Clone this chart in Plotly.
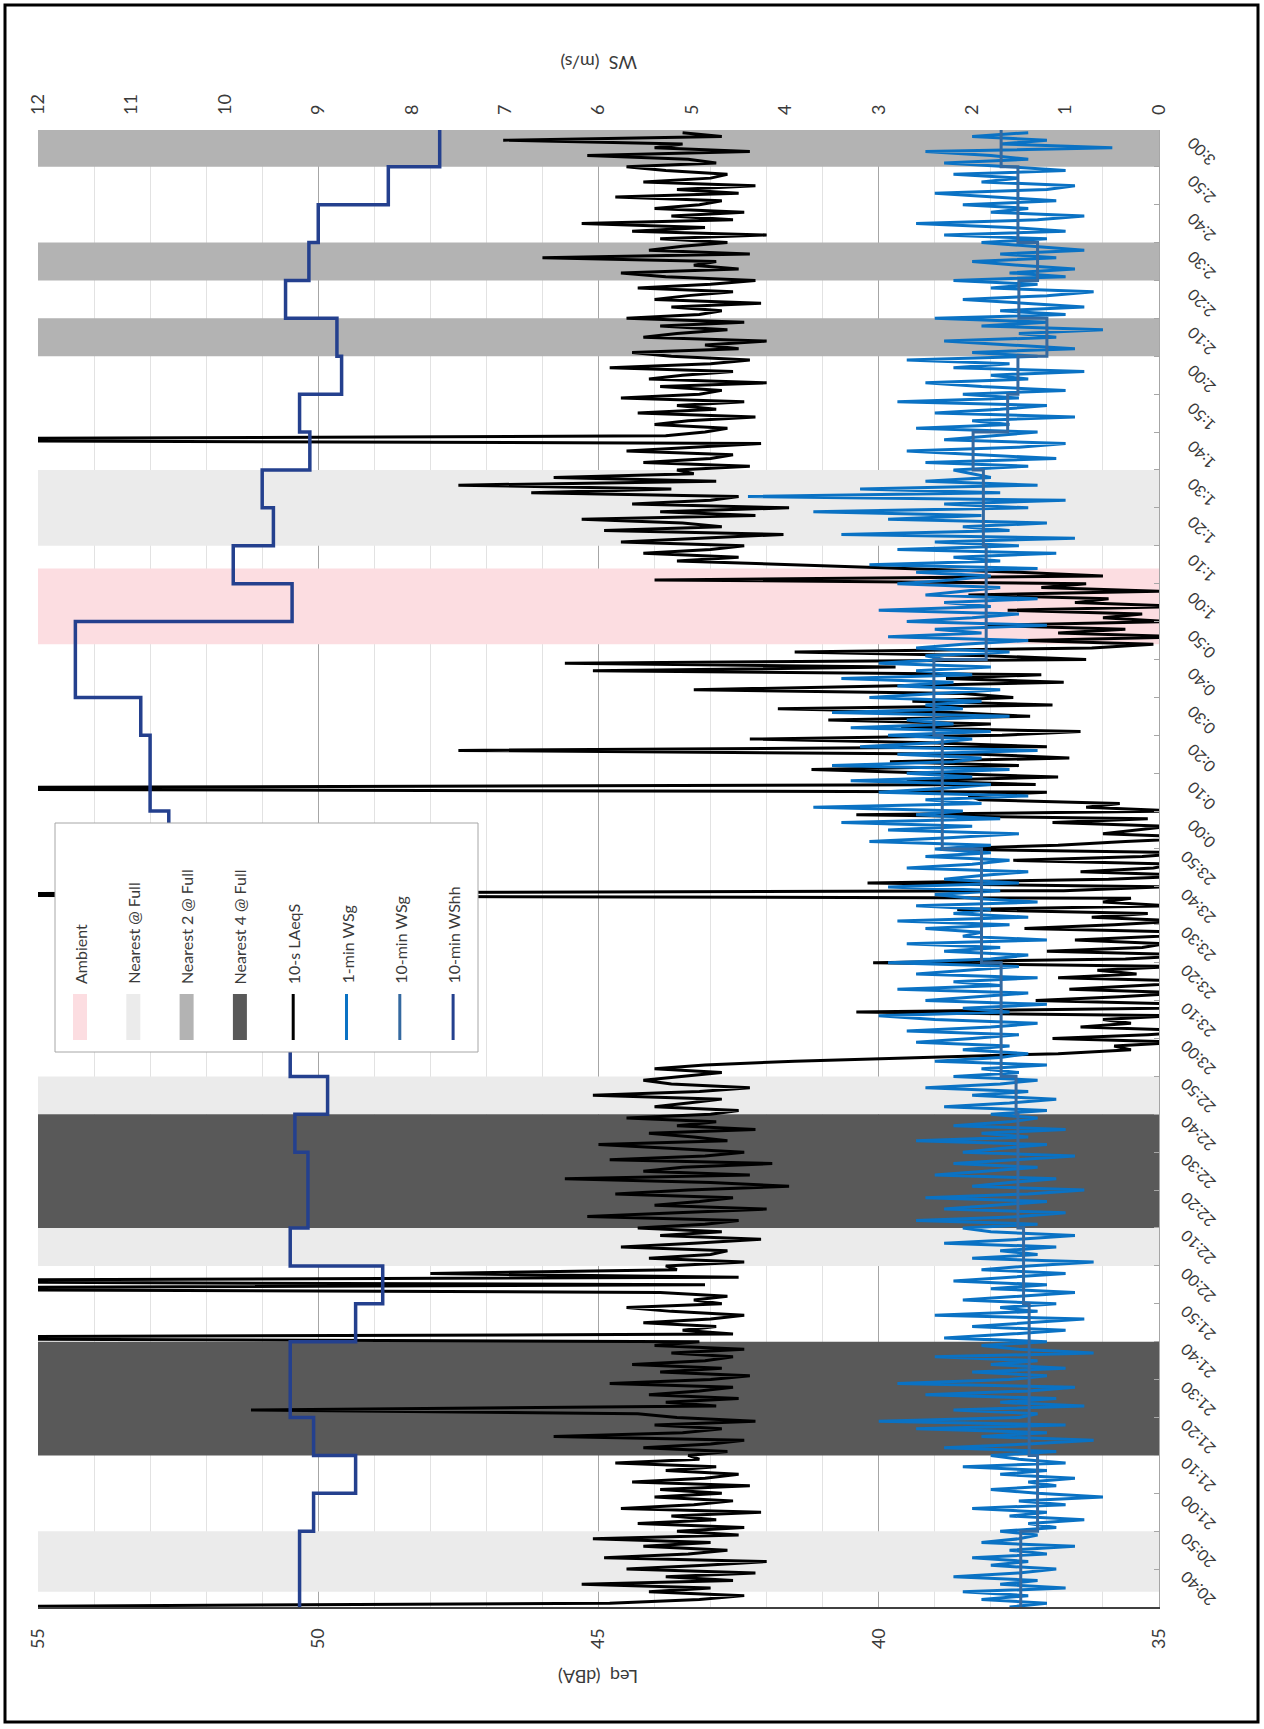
import plotly.graph_objects as go
import pandas as pd

# ---------------- data ----------------
START = pd.Timestamp("2021-01-01 20:40:00")
AXIS_END_MIN = 389.7          # minutes after 20:40 at top of plot

laeq_10s = (
    [58.0]
    + [44.8, 43.2, 42.4, 44.1, 43.0, 45.3, 42.6, 43.8, 42.2, 44.5, 43.1, 42.0, 44.9, 43.4, 42.7, 44.2, 43.0, 45.1, 42.5]
    + [43.6, 42.4, 44.3, 42.9, 43.7, 42.1, 44.6, 43.3, 42.6, 44.0, 42.8, 43.9, 42.3, 44.4, 43.1, 42.5, 43.8, 42.9, 44.7, 43.2]
    + [43.4, 42.7, 44.2, 43.0, 42.4, 45.8, 43.5, 42.8, 44.0, 42.2, 43.6, 44.3, 51.2, 42.9, 43.8, 42.5, 44.1, 43.2, 42.6, 44.8,
       43.0, 42.3, 43.9, 42.8, 44.4, 43.1, 42.6, 43.7, 42.4, 44.0]
    + [43.2, 62.0, 42.6, 43.5, 42.9, 44.2, 43.0, 42.4, 43.7, 44.5, 42.8, 43.3, 42.7, 43.9, 61.0, 43.1, 61.0, 42.5, 48.0, 43.6]
    + [43.8, 42.4, 44.1, 43.0, 42.7, 44.6, 43.3, 42.1, 43.9, 42.8,
       44.3, 43.1, 42.5, 45.2, 43.6, 42.0, 44.0, 43.2, 42.6, 44.7,
       43.4, 41.6, 43.0, 45.6, 42.3, 44.2, 43.5, 41.9, 44.8, 43.1,
       42.4, 43.8, 45.0, 42.7, 43.3, 44.1, 42.2, 43.6, 42.9, 44.5,
       43.0, 42.5, 44.0, 43.4, 42.8, 45.1, 43.2, 42.3, 43.7, 44.2]
    + [43.5, 42.8, 44.0, 43.1, 41.5, 39.0, 36.8, 35.5]
    + [35.8, 34.6, 36.9, 35.2, 34.1, 36.4, 35.5, 36.0, 34.8, 40.4,
       35.0, 34.3, 37.2, 35.7, 34.5, 36.6, 35.1, 34.0, 36.8, 35.4,
       36.1, 34.7, 40.1, 35.6, 34.2, 37.0, 35.3, 34.9, 36.5, 35.0,
       34.4, 37.4, 35.8, 34.6, 36.2, 35.2, 38.6, 34.8, 36.0, 35.5,
       62.0, 36.7, 34.9, 40.2, 35.9, 34.3, 36.4, 35.1, 34.7, 37.6,
       35.3, 34.5, 38.9, 36.8, 35.6, 34.1, 36.0, 35.4, 34.8, 36.9,
       35.2, 40.4, 34.6, 36.3, 35.7, 38.2]
    + [38.4, 37.0, 62.0, 37.2, 39.5, 36.8, 38.9, 41.2, 37.5, 39.8,
       36.6, 38.2, 47.5, 37.0, 39.1, 42.3, 37.8, 36.4, 39.6, 38.0,
       40.9, 37.3, 38.7, 41.8, 36.9, 39.4, 37.6, 38.5, 43.3, 40.2,
       36.7, 38.8, 37.1, 45.1, 39.7, 45.6, 36.3, 38.1, 41.5]
    + [36.2, 35.1, 37.4, 34.5, 36.8, 35.6, 38.1, 34.8, 36.0, 35.3, 37.7, 34.6, 36.5, 35.9, 38.4, 35.0, 37.1, 36.3, 44.0, 36.0, 37.5]
    + [39.5, 41.8, 43.6, 42.5, 44.2, 43.0]
    + [42.4, 44.6, 43.1, 41.7, 44.9, 42.8, 43.5, 45.3, 42.2, 43.9, 41.6, 44.4, 43.0, 42.5, 46.2, 43.7, 47.5, 42.9, 45.8, 43.3]
    + [43.6, 42.3, 44.2, 43.0, 42.6, 44.5, 43.3, 42.1, 62.0, 43.8,
       43.1, 42.7, 44.0, 43.4, 42.2, 44.3, 42.9, 43.6, 42.4, 44.6,
       43.2, 42.8, 43.9, 42.0, 44.1, 43.5, 42.6, 44.8, 43.0, 42.3,
       43.7, 44.4, 42.5, 43.1, 42.0, 44.2, 43.6, 42.7, 43.9, 42.4,
       44.5, 43.2, 42.8, 43.7, 42.1, 44.0, 43.4, 42.6, 44.3, 43.0,
       42.2, 43.8, 44.6, 42.5, 43.3, 42.9, 46.0, 42.3, 44.1, 43.5,
       42.7, 43.9, 42.0, 44.4, 43.1, 45.3, 42.6, 43.7, 42.4, 44.0,
       43.2, 42.8, 44.7, 42.5, 43.6, 42.2, 44.2, 43.0, 42.7, 43.8,
       44.5, 42.9, 43.4, 45.2, 42.3, 44.0, 43.5, 46.7, 42.8, 43.5]
)

# 1-min WS (gust-corrected), one value per minute from 20:40
ws_1min = (
    [1.6, 1.2, 1.9, 1.4, 2.1, 1.0, 1.7, 1.3, 2.2, 1.5, 1.1, 1.8, 1.4, 2.0, 1.2, 1.6, 0.9, 1.9, 1.5, 1.3]
    + [1.7, 1.1, 1.4, 0.8, 1.6, 1.2, 2.0, 1.0, 1.5, 0.6, 1.3, 1.8, 1.1, 1.4, 0.9, 1.7, 1.2, 2.1, 1.0, 1.5]
    + [1.8, 1.1, 2.3, 1.4, 0.7, 1.9, 1.2, 2.6, 1.0, 3.0, 1.5, 1.3, 2.2, 0.8, 1.7, 1.1, 2.5, 1.4, 0.9, 2.8,
       1.6, 1.2, 2.0, 1.0, 1.8, 1.3, 2.4, 0.7, 1.5, 1.9]
    + [1.2, 2.3, 1.6, 1.0, 2.0, 1.4, 0.8, 2.4, 1.3, 1.7, 1.1, 2.1, 1.5, 0.9, 1.8, 1.2, 2.2, 1.6, 1.0, 1.9,
       1.4, 0.7, 2.0, 1.3, 1.7, 1.1, 2.3, 1.5, 0.9, 1.8]
    + [2.1, 1.3, 2.6, 1.5, 1.0, 2.3, 1.7, 1.2, 2.5, 1.4, 0.8, 2.0, 1.6, 1.1, 2.4, 1.8, 1.3, 2.2, 1.5, 0.9,
       2.1, 1.7, 1.2, 2.6, 1.4, 1.9, 1.0, 2.2, 1.6, 1.3]
    + [1.8, 1.2, 2.3, 1.6, 1.1, 2.0, 1.4, 2.5, 1.7, 1.3, 2.2, 1.5, 1.9, 1.2, 2.4, 1.7, 1.4, 2.1, 1.6, 2.6]
    + [2.0, 1.5, 2.7, 1.8, 1.3, 2.4, 3.0, 1.6, 2.1, 1.2, 2.5, 1.9, 1.4, 2.8, 1.7, 2.2, 1.3, 2.6, 2.0, 1.5,
       2.9, 1.8, 1.4, 2.3, 1.7, 2.7, 1.2, 2.1, 1.9, 2.5, 1.6, 2.8, 1.4, 2.2, 1.8, 2.6, 1.3, 2.0, 2.4, 1.7,
       2.9, 1.5, 2.3, 1.9, 1.4, 2.7, 2.0, 1.6, 2.5, 1.8]
    + [2.4, 1.8, 3.1, 2.2, 1.5, 2.9, 2.0, 3.4, 1.7, 2.6, 2.1, 3.7, 1.9, 2.5, 1.4, 3.0, 2.3, 1.8, 3.3, 2.0,
       2.7, 1.6, 3.5, 2.2, 1.9, 2.8, 1.3, 3.2, 2.4, 2.0]
    + [2.9, 1.8, 3.3, 2.2, 2.7, 1.6, 3.5, 2.1, 2.5, 1.9, 3.1, 2.4, 1.7, 2.8, 2.2, 3.4, 2.0, 2.6, 1.8, 3.0, 2.3, 2.5]
    + [1.6, 2.6, 2.1, 1.4, 2.9, 1.9, 2.4, 1.2, 2.7, 2.0, 1.5, 3.0, 1.8, 2.3, 1.3, 2.5, 2.1, 1.7, 2.8, 2.2]
    + [1.8, 2.6, 1.3, 3.1, 1.7, 2.2, 1.1, 2.8, 1.5, 2.4, 0.9, 3.4, 1.6, 2.1, 1.2, 2.9, 1.9, 3.7, 1.4, 2.3,
       1.0, 4.4, 1.7, 3.2, 1.3, 2.5, 1.8, 2.0]
    + [2.2, 1.4, 2.5, 1.1, 1.9, 2.7, 1.5, 1.0, 2.3, 1.8, 1.3, 2.6, 1.6, 2.0, 0.9, 2.4, 1.7, 1.2, 2.8, 1.5,
       2.1, 1.0, 1.9, 2.5, 1.4, 1.8, 0.8, 2.2, 1.6, 2.7]
    + [1.3, 2.0, 0.9, 1.6, 2.3, 1.1, 1.5, 0.6, 1.9, 1.2, 2.4, 1.0, 1.7, 0.8, 1.4, 2.1, 1.2, 0.7, 1.8, 1.3,
       2.2, 1.0, 1.6, 0.9, 1.5, 2.0, 1.1, 1.7, 0.8, 1.4]
    + [1.9, 1.2, 2.3, 1.0, 1.6, 2.6, 1.3, 0.8, 1.8, 1.4, 2.1, 1.1, 1.7, 2.4, 1.2, 0.9, 1.9, 1.5, 2.2, 1.0,
       1.6, 2.3, 1.4, 1.8, 2.5, 0.5, 1.7, 1.2, 2.0, 1.4]
)

# 10-min averages, one value per 10-min interval starting 20:40
ws10_g = [1.48, 1.48, 1.30, 1.30, 1.39, 1.39, 1.39, 1.39, 1.45, 1.45,
          1.51, 1.51, 1.51, 1.53, 1.69, 1.69, 1.69, 1.90, 1.90, 1.90,
          2.32, 2.32, 2.32, 2.41, 2.41, 1.85, 1.85, 1.85, 1.88, 1.88,
          1.99, 1.62, 1.51, 1.20, 1.50, 1.30, 1.51, 1.51, 1.69]
ws10_hh = [9.20, 9.20, 9.05, 8.60, 9.05, 9.30, 9.30, 8.60, 8.31, 9.30,
           9.11, 9.11, 9.25, 8.90, 9.30, 9.40, 9.50, 9.50, 9.60, 9.70,
           10.60, 10.80, 10.80, 10.90, 11.60, 11.60, 9.28, 9.91, 9.48, 9.60,
           9.09, 9.20, 8.75, 8.80, 9.35, 9.10, 9.00, 8.25, 7.70]

# operating-condition bands, (start, end) in minutes after 20:40
band_ambient = [(254, 274)]
band_nearest = [(4, 20), (90, 100), (130, 140), (280, 300)]
band_nearest2 = [(330, 340), (350, 360), (380, AXIS_END_MIN)]
band_nearest4 = [(40, 70), (100, 130)]

leq_ticks = [35, 40, 45, 50, 55]
ws_ticks = list(range(0, 13))

# ---------------- styling ----------------
C_AMB, C_N1, C_N2, C_N4 = "#FCDDE1", "#EBEBEB", "#B3B3B3", "#595959"
C_LAEQ, C_WS1, C_WS10G, C_WSHH = "#000000", "#0A72C4", "#3469A0", "#24408E"
FONT = "Lato"
TXT = "#3A3A3A"

PL, PR, PT, PB = 38, 1159, 130, 1607   # plot area in pixels


def tm(m):
    return (START + pd.to_timedelta(m, unit="m")).strftime("%Y-%m-%d %H:%M:%S")


def px(x):
    return (x - PL) / (PR - PL)


def py(y):
    return (PB - y) / (PB - PT)


t_1min = [tm(i) for i in range(len(laeq_10s))]
t_1min_ws = [tm(i) for i in range(len(ws_1min))]
t_10 = [tm(10 * i) for i in range(len(ws10_g))] + [tm(AXIS_END_MIN)]

fig = go.Figure()

# bands as filled polygons spanning the whole Leq range (drawn first, over gridlines)
for bands, col, nm in [(band_ambient, C_AMB, "Ambient"), (band_nearest, C_N1, "Nearest @ Full"),
                       (band_nearest2, C_N2, "Nearest 2 @ Full"), (band_nearest4, C_N4, "Nearest 4 @ Full")]:
    bx, by = [], []
    for a, b in bands:
        bx += [34, 34, 56, 56, 34, None]
        by += [tm(a), tm(b), tm(b), tm(a), tm(a), None]
    fig.add_trace(go.Scatter(x=bx, y=by, mode="lines", fill="toself", fillcolor=col,
                             line=dict(width=0, color=col), xaxis="x", yaxis="y", name=nm, hoverinfo="skip"))

fig.add_trace(go.Scatter(x=laeq_10s, y=t_1min, mode="lines", line=dict(color=C_LAEQ, width=3),
                         xaxis="x", yaxis="y", name="10-s LAeqS"))
fig.add_trace(go.Scatter(x=ws_1min, y=t_1min_ws, mode="lines", line=dict(color=C_WS1, width=3),
                         xaxis="x2", yaxis="y", name="1-min WSg"))
fig.add_trace(go.Scatter(x=ws10_g + [ws10_g[-1]], y=t_10, mode="lines",
                         line=dict(color=C_WS10G, width=3, shape="vh"), xaxis="x2", yaxis="y", name="10-min WSg"))
fig.add_trace(go.Scatter(x=ws10_hh + [ws10_hh[-1]], y=t_10, mode="lines",
                         line=dict(color=C_WSHH, width=3.5, shape="vh"), xaxis="x2", yaxis="y", name="10-min WShh"))

shapes = []
# outer chart frame
shapes.append(dict(type="rect", xref="paper", yref="paper", x0=px(5), x1=px(1258), y0=py(1722), y1=py(5),
                   line=dict(color="black", width=3), fillcolor="rgba(0,0,0,0)", layer="above"))

# ---- manual legend (rotated like the rest of the chart) ----
LEG_L, LEG_R, LEG_T, LEG_B = 55, 478, 823, 1052
shapes.append(dict(type="rect", xref="paper", yref="paper", x0=px(LEG_L), x1=px(LEG_R), y0=py(LEG_B), y1=py(LEG_T),
                   fillcolor="white", line=dict(color="#A6A6A6", width=1), layer="above"))
legend_items = [("Ambient", "box", C_AMB), ("Nearest @ Full", "box", C_N1), ("Nearest 2 @ Full", "box", C_N2),
                ("Nearest 4 @ Full", "box", C_N4), ("10-s LAeqS", "line", C_LAEQ), ("1-min WSg", "line", C_WS1),
                ("10-min WSg", "line", C_WS10G), ("10-min WShh", "line", C_WSHH)]
annotations = []
for i, (lab, kind, col) in enumerate(legend_items):
    cx = 80 + i * 53.3
    if kind == "box":
        shapes.append(dict(type="rect", xref="paper", yref="paper", x0=px(cx - 7), x1=px(cx + 7),
                           y0=py(1040), y1=py(994), fillcolor=col, line=dict(width=0), layer="above"))
    else:
        shapes.append(dict(type="line", xref="paper", yref="paper", x0=px(cx), x1=px(cx),
                           y0=py(1040), y1=py(994), line=dict(color=col, width=3), layer="above"))
    annotations.append(dict(text=lab, xref="paper", yref="paper", x=px(cx), y=py(986), xanchor="center",
                            yanchor="bottom", textangle=-90, showarrow=False,
                            font=dict(family=FONT, size=16, color=TXT)))

# axis titles (rotated)
annotations.append(dict(text="Leq  (dBA)", xref="paper", yref="paper", x=0.5, y=py(1690), textangle=180,
                        showarrow=False, font=dict(family=FONT, size=18, color=TXT)))
annotations.append(dict(text="WS  (m/s)", xref="paper", yref="paper", x=0.5, y=py(50), textangle=180,
                        showarrow=False, font=dict(family=FONT, size=18, color=TXT)))

fig.update_layout(
    width=1264, height=1729,
    margin=dict(l=PL, r=1264 - PR, t=PT, b=1729 - PB),
    paper_bgcolor="white", plot_bgcolor="white", showlegend=False,
    font=dict(family=FONT, size=16, color=TXT),
    shapes=shapes, annotations=annotations,
    xaxis=dict(range=[55, 35], tickvals=leq_ticks, tickangle=-90, showgrid=True, gridcolor="#A6A6A6",
               gridwidth=1.3, minor=dict(dtick=1, showgrid=True, gridcolor="#E2E2E2", gridwidth=1),
               showline=True, linecolor="#404040", linewidth=2, zeroline=False,
               tickfont=dict(size=18), ticklabelstandoff=12, anchor="y"),
    xaxis2=dict(range=[12, 0], tickvals=ws_ticks, overlaying="x", side="top", tickangle=-90,
                showgrid=False, zeroline=False, tickfont=dict(size=18), ticklabelstandoff=14, anchor="y"),
    yaxis=dict(type="date", range=[tm(0), tm(AXIS_END_MIN)], side="right", dtick=600000, tick0=tm(0),
               tickformat="%-H:%M", tickangle=-135, showgrid=False, showline=True, linecolor="#A6A6A6",
               ticks="inside", ticklen=5, tickcolor="#A6A6A6", tickfont=dict(size=16), zeroline=False,
               ticklabelstandoff=48),
)

fig.write_html("out.html", config={"displayModeBar": False},
               post_script="document.body.style.margin='0';")
